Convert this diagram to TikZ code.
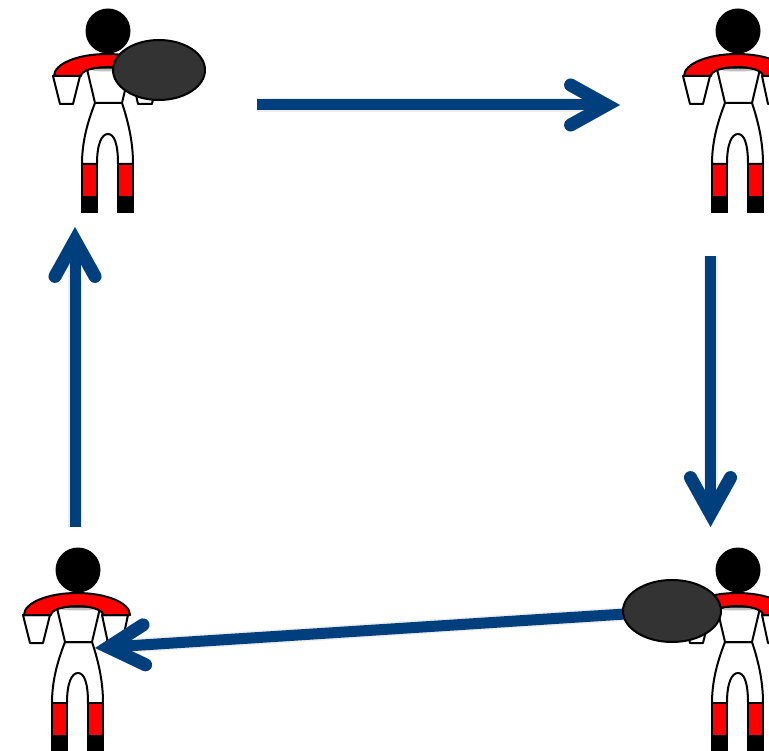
\documentclass[tikz,border=0pt]{standalone}
\usepackage{xcolor}
\usepackage{tikz}
\usetikzlibrary{arrows.meta,shapes.geometric}

\definecolor{passblue}{RGB}{0,63,125}
\definecolor{ballgrey}{RGB}{51,51,51}

\tikzset{
  kit/.style={draw=black, line width=2pt, line join=round},
  passtip/.style={-{Straight Barb[length=36pt,width=40pt,line width=13pt,line cap=round,line join=miter]}},
  pass/.style={passtip, draw=passblue, line width=11pt},
  passshade/.style={passtip, draw=black!#1, line width=14pt, shift={(3,7)}},
  ball/.style={ellipse, draw=black, fill=ballgrey, line width=2pt, inner sep=0pt},
  player/.pic={
    % arms
    \draw[kit, fill=white] (-55,45) -- (-28,45) -- (-35,73) -- (-48,73) -- cycle;
    \draw[kit, fill=white] (24,45) -- (50,45) -- (44,73) -- (30,73) -- cycle;
    % legs and torso
    \draw[kit, fill=white] (-13,72) -- (14,72) .. controls (20,90) and (25,110) .. (25,133)
      -- (10,133) .. controls (10,112) and (6,103) .. (0,103) .. controls (-6,103) and (-11,112) .. (-11,133)
      -- (-26,133) .. controls (-26,110) and (-20,90) .. (-13,72) -- cycle;
    \draw[kit, fill=white] (-21,38) -- (22,38) -- (14,72) -- (-13,72) -- cycle;
    \fill[black!25] (0,39) ellipse [x radius=16, y radius=1.5];
    % socks and boots
    \draw[kit, fill=red] (-26,133) rectangle (-11,166);
    \draw[kit, fill=red] (10,133) rectangle (25,166);
    \fill (-27,166) rectangle (-10,182);
    \fill (9,166) rectangle (26,182);
    % shirt
    \draw[kit, fill=red] (-54,45) arc[start angle=180, end angle=360, x radius=53, y radius=22]
      -- (25,45) arc[start angle=360, end angle=180, x radius=26, y radius=9] -- cycle;
    \fill (0,0) circle[radius=22.5];
  }
}

\begin{document}
\begin{tikzpicture}[x=1pt, y=-1pt]
\clip (0,0) rectangle (769,751);
\fill[white] (0,0) rectangle (769,751);

\coordinate (topA) at (257,105);
\coordinate (topB) at (620,105);
\coordinate (rightA) at (710.5,256);
\coordinate (rightB) at (710.5,527);
\coordinate (leftA) at (75,527);
\coordinate (leftB) at (75,227);
\coordinate (lowB) at (95,648);
\coordinate (ballB) at (672,611);

% shadows of the passes
\foreach \a/\b in {topA/topB, rightA/rightB, leftA/leftB, ballB/lowB} {
  \draw[passshade=7] (\a) -- (\b);
  \draw[passshade=12, line width=8pt] (\a) -- (\b);
}

\pic (pTL) at (108,31) {player};
\pic (pTR) at (738,31) {player};
\pic (pBL) at (78,570) {player};
\pic (pBR) at (738,570) {player};

\draw[pass] (topA) -- (topB);
\draw[pass] (rightA) -- (rightB);
\draw[pass] (leftA) -- (leftB);
\draw[pass] (ballB) -- (lowB);

\node[ball, minimum width=92pt, minimum height=60pt] (ballT) at (159,70) {};
\node[ball, minimum width=98pt, minimum height=62pt] (ballR) at (ballB) {};

\end{tikzpicture}
\end{document}
